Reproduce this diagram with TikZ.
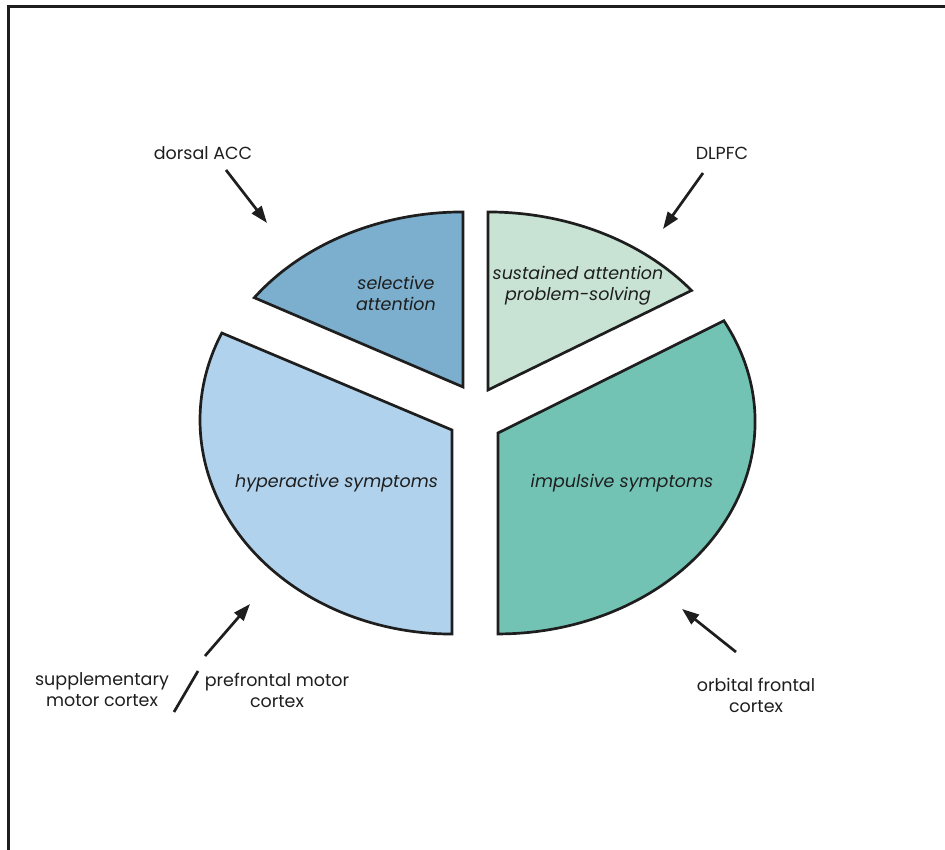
\documentclass[tikz,border=0pt]{standalone}
\usepackage{fontspec}
\setmainfont{Poppins}
\usetikzlibrary{arrows.meta}
\definecolor{inkc}{HTML}{1E1E1E}
\definecolor{selblue}{HTML}{7CAECE}
\definecolor{hypblue}{HTML}{B0D2EC}
\definecolor{susgreen}{HTML}{C8E3D4}
\definecolor{impteal}{HTML}{73C3B5}
\tikzset{
  slice/.style={draw=inkc, line width=2.7pt, line join=miter},
  pointer/.style={draw=inkc, line width=2.7pt, -{Triangle[length=17pt,width=12pt]}},
  region/.style={font=\fontsize{17.5}{21}\selectfont, text=inkc, align=center, inner sep=0pt},
  inslice/.style={font=\fontsize{17.5}{21}\selectfont\itshape, text=inkc, align=center, inner sep=0pt},
}
\begin{document}
\begin{tikzpicture}[x=1pt,y=1pt]
\useasboundingbox (0,0) rectangle (945,850);
% page frame (top and left rules)
\draw[inkc, line width=3pt] (8,0) -- (8,843) -- (945,843);

% pie slices
\fill[selblue] (463,463) -- (254.3,552.3) arc[start angle=144, end angle=90, x radius=258, y radius=208] -- cycle;
\draw[slice] (463,463) -- (254.3,552.3) arc[start angle=144, end angle=90, x radius=258, y radius=208] -- cycle;

\fill[susgreen] (488,460) -- (691.5,559.5) arc[start angle=38.5, end angle=90, x radius=260, y radius=208] -- cycle;
\draw[slice] (488,460) -- (691.5,559.5) arc[start angle=38.5, end angle=90, x radius=260, y radius=208] -- cycle;

\fill[hypblue] (452,420) -- (221.8,517) arc[start angle=156, end angle=270, x radius=252, y radius=214] -- cycle;
\draw[slice] (452,420) -- (221.8,517) arc[start angle=156, end angle=270, x radius=252, y radius=214] -- cycle;

\fill[impteal] (498,417) -- (723.9,529.2) arc[start angle=28.5, end angle=-90, x radius=257, y radius=212] -- cycle;
\draw[slice] (498,417) -- (723.9,529.2) arc[start angle=28.5, end angle=-90, x radius=257, y radius=212] -- cycle;

% slice labels
\node[inslice] (sel) at (396,556.5) {selective\\attention};
\node[inslice] (sus) at (578,564) {sustained attention\\problem-solving};
\node[inslice] (hyp) at (336.5,367) {hyperactive symptoms};
\node[inslice] (imp) at (622,367) {impulsive symptoms};

% brain region labels
\node[region] (acc) at (203,697) {dorsal ACC};
\node[region] (dlpfc) at (722,697) {DLPFC};
\node[region] (sma) at (102,160) {supplementary\\motor cortex};
\node[region] (pmc) at (277,160) {prefrontal motor\\cortex};
\node[region] (ofc) at (756,155) {orbital frontal\\cortex};

% arrow ends
\coordinate (accT) at (226,680);  \coordinate (accH) at (267,627);
\coordinate (dlT) at (703,677);   \coordinate (dlH) at (663,621);
\coordinate (mT) at (205,194);    \coordinate (mH) at (250,246);
\coordinate (oT) at (736,198);    \coordinate (oH) at (682,241);
\coordinate (slA) at (198,179);   \coordinate (slB) at (174,138);

\draw[pointer] (accT) -- (accH);
\draw[pointer] (dlT) -- (dlH);
\draw[pointer] (mT) -- (mH);
\draw[pointer] (oT) -- (oH);
\draw[inkc, line width=2.7pt] (slA) -- (slB);
\end{tikzpicture}
\end{document}
